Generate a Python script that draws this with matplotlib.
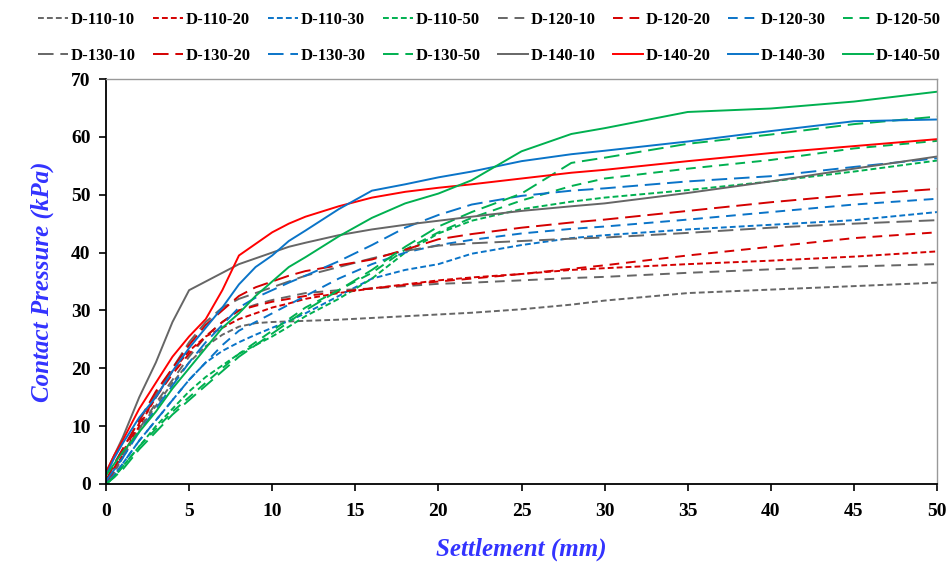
import matplotlib
matplotlib.use("Agg")
import matplotlib.pyplot as plt

# Settlement grid (mm)
settlement = [0, 0.5, 1, 2, 3, 4, 5, 6, 7, 8, 9, 10, 11, 12, 14, 16, 18, 20, 22, 25, 28, 30, 35, 40, 45, 50]

# Contact pressure (kPa)
d110_10 = [0, 2, 4.5, 9.5, 13.5, 17.5, 21, 23.8, 25.8, 27.2, 27.8, 28.0, 28.1, 28.2, 28.4, 28.7, 29.0, 29.3, 29.6, 30.2, 31.0, 31.7, 33.0, 33.6, 34.2, 34.8]
d110_20 = [0, 2.5, 5, 10, 15, 19.5, 23, 25.5, 27, 28.5, 29.5, 30.5, 31.2, 32, 33, 33.8, 34.5, 35.2, 35.7, 36.3, 37, 37.3, 38, 38.6, 39.3, 40.2]
d110_30 = [0, 1.5, 3.5, 7.5, 11, 14.5, 18, 21, 23, 24.5, 25.8, 27, 28.2, 29.5, 32.5, 35.5, 37, 38, 39.8, 41.3, 42.5, 43, 44, 44.8, 45.6, 47]
d110_50 = [0, 1.2, 3, 6.5, 10, 13, 16, 18.5, 20.5, 22.5, 24, 25.5, 27.2, 29, 32, 35.5, 40, 43.3, 45.5, 47.5, 48.8, 49.5, 50.8, 52.3, 54, 55.9]

d120_10 = [0, 2.5, 5, 9.5, 14, 18, 22, 25.5, 28, 30, 31, 31.8, 32.4, 33, 33.5, 33.8, 34.2, 34.6, 34.8, 35.2, 35.6, 35.8, 36.5, 37.1, 37.6, 38]
d120_20 = [0, 2.8, 5.5, 10.5, 15, 19, 22.5, 25.5, 28, 30, 30.8, 31.5, 32, 32.5, 33.2, 33.8, 34.4, 35, 35.5, 36.3, 37.2, 37.8, 39.5, 41, 42.5, 43.5]
d120_30 = [0, 1.5, 3.5, 7.5, 11, 14.5, 18, 21, 24, 26.5, 28, 29.5, 31, 32.5, 35.5, 38, 40, 41.3, 42.2, 43.3, 44.1, 44.5, 45.7, 47, 48.3, 49.3]
d120_50 = [0, 1.2, 3, 6.5, 9.5, 12.5, 15, 17.5, 20, 22.5, 24.5, 26.5, 28.5, 30.5, 33.5, 36.5, 40.5, 43.5, 46, 49, 51.5, 52.8, 54.5, 56, 58, 59.3]

d130_10 = [0.5, 3.5, 6, 11, 15.5, 20, 24.5, 28, 30.5, 32, 33, 34, 35, 36, 37.5, 39, 40.3, 41.2, 41.6, 42, 42.4, 42.6, 43.4, 44.3, 45, 45.6]
d130_20 = [0.5, 3.5, 6, 11, 16, 20, 24, 27.5, 30, 32.5, 34, 35, 36, 36.8, 37.8, 38.8, 40.5, 42.3, 43.2, 44.3, 45.2, 45.7, 47.2, 48.7, 50, 51]
d130_30 = [0.5, 2.5, 4.5, 9, 13, 17, 21, 24.5, 27.5, 30.5, 32.2, 33.5, 34.8, 36, 38.5, 41.3, 44.3, 46.5, 48.3, 49.8, 50.7, 51.1, 52.3, 53.2, 54.8, 56.3]
d130_50 = [0, 1.2, 2.5, 6, 9, 12, 14.5, 17, 19.5, 22, 24, 26, 28, 30, 33.5, 37, 41, 44.5, 47, 50.2, 55.5, 56.4, 58.8, 60.4, 62.2, 63.5]

d140_10 = [2, 5, 8, 15, 21, 28, 33.5, 35, 36.5, 38, 39, 40, 41, 41.7, 43, 44, 44.8, 45.5, 46.2, 47.2, 48, 48.5, 50.3, 52.3, 54.5, 56.6]
d140_20 = [2, 5, 7.5, 13, 17.5, 22, 25.5, 28.5, 33.5, 39.5, 41.5, 43.5, 45, 46.2, 48, 49.5, 50.5, 51.2, 51.8, 52.8, 53.8, 54.3, 55.8, 57.2, 58.4, 59.6]
d140_30 = [1.5, 4.5, 7, 11.5, 15, 19.5, 23.5, 27, 30.5, 34.5, 37.5, 39.5, 42, 43.8, 47.5, 50.7, 51.8, 53, 54, 55.8, 57, 57.6, 59.2, 61, 62.7, 63]
d140_50 = [1.5, 3.5, 5.5, 9, 12.5, 16.5, 20, 23.5, 27, 29.5, 32.5, 35, 37.5, 39.2, 42.8, 46, 48.5, 50.2, 52.5, 57.5, 60.5, 61.5, 64.3, 64.9, 66.1, 67.8]

labels = ["D-110-10", "D-110-20", "D-110-30", "D-110-50",
          "D-120-10", "D-120-20", "D-120-30", "D-120-50",
          "D-130-10", "D-130-20", "D-130-30", "D-130-50",
          "D-140-10", "D-140-20", "D-140-30", "D-140-50"]
series = [d110_10, d110_20, d110_30, d110_50,
          d120_10, d120_20, d120_30, d120_50,
          d130_10, d130_20, d130_30, d130_50,
          d140_10, d140_20, d140_30, d140_50]

gray = "#666666"
red_d = "#d40000"
red_s = "#ff0000"
blue = "#0a74c8"
green = "#00b050"
colors = [gray, red_d, blue, green,
          gray, red_d, blue, green,
          gray, red_d, blue, green,
          gray, red_s, blue, green]
dash_110 = (0, (3, 1.6))
dash_120 = (0, (5, 3.5))
dash_130 = (0, (8, 3.5))
styles = [dash_110] * 4 + [dash_120] * 4 + [dash_130] * 4 + ["-"] * 4

plt.rcParams["font.family"] = ["Liberation Serif", "DejaVu Serif"]

fig = plt.figure(figsize=(9.5, 5.65), dpi=100)
ax = fig.add_axes([106 / 950, 1 - 484 / 565, (937 - 106) / 950, (484 - 79) / 565])

handles = []
for y, lab, c, ls in zip(series, labels, colors, styles):
    h, = ax.plot(settlement, y, color=c, linestyle=ls, linewidth=1.4, label=lab)
    handles.append(h)

ax.set_xlim(0, 50)
ax.set_ylim(0, 70)
ax.set_xticks(range(0, 51, 5))
ax.set_yticks(range(0, 71, 10))
ax.tick_params(axis="both", direction="out", length=5, width=1.2, labelsize=14, pad=6)
for lbl in ax.get_xticklabels() + ax.get_yticklabels():
    lbl.set_fontweight("bold")
ax.tick_params(axis="x", pad=9)

for side in ["left", "bottom"]:
    ax.spines[side].set_color("black")
    ax.spines[side].set_linewidth(1.3)
for side in ["top", "right"]:
    ax.spines[side].set_color("#999999")
    ax.spines[side].set_linewidth(1.0)

label_color = "#3333ff"
ax.set_xlabel("Settlement (mm)", fontsize=18, fontweight="bold", fontstyle="italic",
              color=label_color, labelpad=12)
ax.set_ylabel("Contact Pressure (kPa)", fontsize=18, fontweight="bold", fontstyle="italic",
              color=label_color, labelpad=12)

# legend filled row by row: first row 110/120, second row 130/140
order = []
for i in range(8):
    order += [i, i + 8]
leg = fig.legend([handles[i] for i in order], [labels[i] for i in order],
                 loc="upper center", bbox_to_anchor=(0.515, 1.005), ncol=8, frameon=False,
                 prop={"weight": "bold", "size": 12}, handlelength=1.8, handletextpad=0.2,
                 columnspacing=1.0, labelspacing=1.2)

fig.savefig("out.png", dpi=100)
